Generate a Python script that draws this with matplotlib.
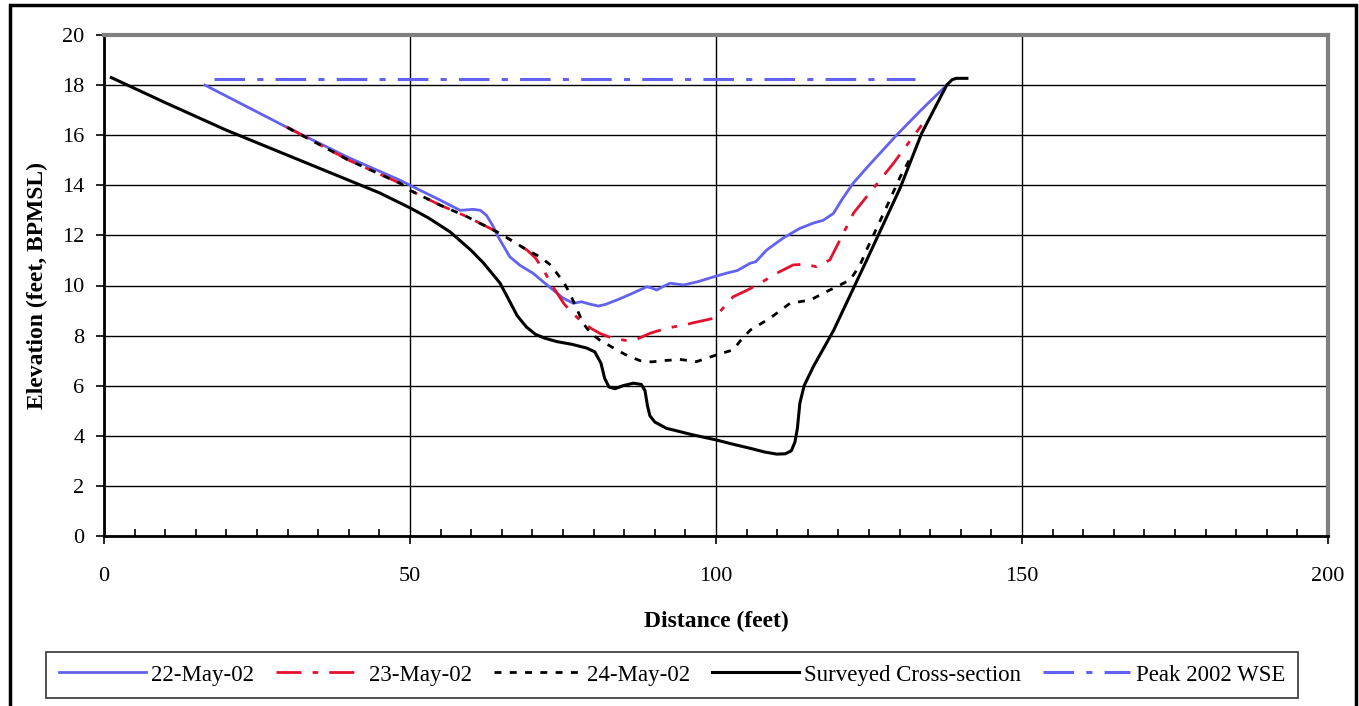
import matplotlib
matplotlib.use("Agg")
import matplotlib.pyplot as plt
from matplotlib.patches import Rectangle
from matplotlib.ticker import MultipleLocator

plt.rcParams['font.family'] = ['Liberation Serif', 'DejaVu Serif']

# surveyed cross-section
sx_dist = [1.2, 10, 20, 30, 40, 45, 50, 53, 56.5, 60, 62, 64.7, 66, 67.5, 69, 70.5, 72, 74,
           76.5, 78.9, 80.2, 81.2, 81.8, 82.5, 83.5, 84.8, 86.5, 87.8, 88.4, 88.8, 89.2,
           90, 91.9, 96, 100.1, 103, 105.6, 108, 109.9, 111.3, 112.3, 112.9, 113.3, 113.7,
           114.4, 115.9, 119.2, 124.6, 130.1, 133.6, 137.7, 138.6, 139.3, 141]
sx_elev = [18.3, 17.3, 16.2, 15.2, 14.2, 13.7, 13.1, 12.7, 12.15, 11.4, 10.9, 10.1, 9.5, 8.8,
           8.35, 8.05, 7.9, 7.76, 7.65, 7.5, 7.35, 6.9, 6.3, 5.95, 5.88, 6.0, 6.1, 6.05, 5.8,
           5.2, 4.8, 4.55, 4.3, 4.05, 3.83, 3.65, 3.5, 3.35, 3.27, 3.28, 3.4, 3.75, 4.3, 5.3,
           6.0, 6.76, 8.2, 11.0, 13.9, 16.07, 18.0, 18.22, 18.27, 18.27]

# 22-May-02
d22_dist = [16.5, 30, 40, 48.4, 50, 55, 58.2, 60.3, 61.5, 62.5, 63.5, 64.5, 66.3, 68, 70.1,
            72, 73.4, 75, 76.7, 78.0, 79.5, 80.8, 82, 83.8, 86, 88.7, 89.5, 90.3, 91.3, 92.5,
            94.7, 97, 100.1, 101.7, 103.5, 105.6, 106.5, 108.3, 111, 113.7, 116, 117.5, 119.2,
            120.5, 122.4, 125, 129.5, 133.5, 137.7]
d22_elev = [18.0, 16.3, 15.1, 14.2, 14.0, 13.4, 13.0, 13.04, 13.0, 12.8, 12.4, 11.9, 11.15,
            10.8, 10.49, 10.1, 9.82, 9.5, 9.29, 9.35, 9.25, 9.18, 9.25, 9.42, 9.65, 9.95, 9.9,
            9.82, 9.95, 10.09, 10.02, 10.15, 10.38, 10.49, 10.6, 10.89, 10.95, 11.42, 11.9,
            12.28, 12.5, 12.6, 12.88, 13.4, 14.08, 14.8, 16.0, 17.0, 18.0]

# 23-May-02
d23_dist = [29.8, 40, 48.4, 50, 55, 59.3, 64.7, 69.1, 70.5, 71.8, 73.5, 75.1, 76.5, 77.8, 79.5,
            81, 83, 85.4, 87, 89.2, 92, 94.7, 97, 99.6, 100.8, 102.8, 105, 107.2, 110, 112.6,
            114.5, 116.4, 118.6, 120.8, 122.5, 124.6, 129, 133.6]
d23_elev = [16.34, 15.0, 14.08, 13.8, 13.2, 12.75, 12.08, 11.42, 11.1, 10.62, 9.9, 9.29, 8.9,
            8.62, 8.3, 8.09, 7.9, 7.8, 7.85, 8.09, 8.3, 8.42, 8.55, 8.69, 9.0, 9.55, 9.8, 10.09,
            10.5, 10.82, 10.85, 10.75, 11.02, 12.08, 12.9, 13.54, 14.88, 16.4]

# 24-May-02
d24_dist = [30, 40, 48.4, 50, 55, 59.3, 64.7, 69.1, 71.2, 72.8, 74, 75.2, 76.1, 77.2, 78.3,
            79.5, 81, 83.8, 85.5, 87.6, 89.5, 91.4, 94.1, 96.8, 98.5, 100.1, 102.8, 104,
            105.6, 108.8, 112.1, 115.4, 118.6, 121.9, 123.5, 124.6, 127.9, 130.1, 132]
d24_elev = [16.3, 15.0, 14.08, 13.8, 13.2, 12.75, 12.08, 11.42, 11.15, 10.85, 10.49, 10.1,
            9.69, 9.1, 8.49, 8.1, 7.82, 7.43, 7.2, 7.0, 6.95, 7.0, 7.05, 6.96, 7.1, 7.23,
            7.43, 7.8, 8.22, 8.69, 9.29, 9.42, 9.82, 10.22, 10.8, 11.42, 13.15, 14.34, 15.2]

# peak 2002 water surface elevation
wse_dist = [17.9, 132.5]
wse_elev = [18.23, 18.23]

blue = '#6262ee'
red = '#e4102c'

fig = plt.figure(figsize=(13.59, 7.06), dpi=100)
ax = fig.add_axes([104/1359, 170/706, 1224/1359, 501/706])

ax.plot(d22_dist, d22_elev, color=blue, lw=2.0, label='22-May-02')
ax.plot(d23_dist, d23_elev, color=red, lw=2.0, dashes=(9, 4, 2, 4), label='23-May-02')
ax.plot(d24_dist, d24_elev, color='black', lw=2.0, dashes=(2.5, 3), label='24-May-02')
ax.plot(sx_dist, sx_elev, color='black', lw=2.2, label='Surveyed Cross-section')
ax.plot(wse_dist, wse_elev, color=blue, lw=2.2, dashes=(10, 4, 2, 4), label='Peak 2002 WSE')

ax.set_xlim(0, 200)
ax.set_ylim(0, 20)
ax.xaxis.set_major_locator(MultipleLocator(50))
ax.xaxis.set_minor_locator(MultipleLocator(5))
ax.yaxis.set_major_locator(MultipleLocator(2))
ax.grid(True, which='major', color='black', lw=1.0)
ax.set_axisbelow(True)

ax.tick_params(axis='x', which='major', direction='out', length=6, width=1.2, labelsize=16, pad=16)
ax.tick_params(axis='x', which='minor', direction='in', length=5, width=1.2)
ax.tick_params(axis='y', which='major', direction='out', length=6, width=1.2, labelsize=16, pad=8)

for s in ['left', 'bottom']:
    ax.spines[s].set_color('black')
    ax.spines[s].set_linewidth(2.0)
for s in ['top', 'right']:
    ax.spines[s].set_color('#808080')
    ax.spines[s].set_linewidth(3.0)

ax.set_xlabel('Distance (feet)', fontsize=17, fontweight='bold', labelpad=18)
ax.set_ylabel('Elevation (feet, BPMSL)', fontsize=17, fontweight='bold', labelpad=10)

leg = fig.legend(loc='center', bbox_to_anchor=(672/1359, 1 - 675/706), ncol=5, fontsize=16.5,
                 frameon=True, fancybox=False, edgecolor='black', handlelength=3.8,
                 columnspacing=0.95, handletextpad=0.25, borderpad=0.55)
leg.get_frame().set_linewidth(1.2)

# outer border
fig.patches.append(Rectangle((10/1359, -0.02), 1346/1359, 1 - 5/706 + 0.02,
                             transform=fig.transFigure, fill=False, edgecolor='black', lw=2.5))

fig.savefig('out.png', dpi=100)
